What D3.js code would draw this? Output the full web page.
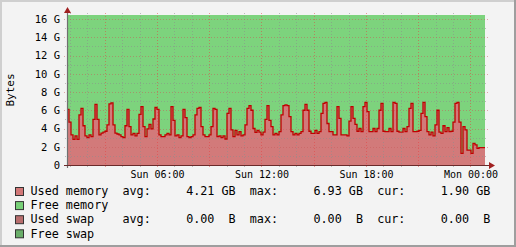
<!DOCTYPE html>
<html lang="en">
<head>
<meta charset="UTF-8"/>
<title>Memory usage</title>
<script src="https://d3js.org/d3.v7.min.js"></script>
<style>
  body { margin: 0; background: #f3f3f3; }
  svg { display: block; }
  text { font-family: "DejaVu Sans Mono", monospace; fill: #000; }
</style>
</head>
<body>
<script>
// time window shown: Sun 00:50 to Mon 00:50
var startTime = new Date(2012, 0, 1, 0, 50);
var endTime = new Date(2012, 0, 2, 0, 50);

// used memory in GB, evenly spaced samples over the window
var usedMemory = [6.1,4.7,3.3,2.8,3.2,2.8,5.5,6.2,4.3,3.2,
  3.0,3.3,3.1,5.0,6.65,5.0,3.3,3.5,3.6,3.7,
  4.4,6.7,6.8,4.4,3.5,3.4,3.3,3.1,3.0,4.3,
  6.1,4.2,3.3,3.47,3.2,3.47,5.55,6.4,4.2,3.1,
  3.95,4.45,3.95,5.04,6.3,6.1,3.3,3.1,3.1,3.3,
  3.47,3.3,6.4,4.9,3.2,3.3,3.0,3.2,6.1,5.2,
  3.1,3.0,3.1,3.3,5.5,6.2,6.3,4.2,3.3,3.1,
  3.1,3.3,4.2,6.2,6.1,3.1,3.2,3.0,3.2,2.85,
  5.66,6.2,3.84,3.1,3.8,3.3,3.65,3.2,3.3,4.4,
  6.2,6.5,6.0,4.0,3.58,3.8,3.6,3.3,3.6,5.0,
  6.5,4.9,4.2,3.3,3.47,3.3,3.65,5.5,6.5,6.6,
  6.5,5.3,3.65,3.3,3.47,3.3,3.47,3.65,6.0,6.65,
  6.0,3.7,3.47,3.47,3.8,3.47,3.65,5.66,6.76,6.87,
  4.55,3.65,3.65,3.3,3.3,6.4,5.1,3.3,3.3,3.3,
  3.2,4.8,6.4,5.1,4.45,3.7,4.0,3.65,6.4,6.87,
  5.85,3.65,3.65,4.0,3.65,4.0,6.0,6.76,3.7,3.65,
  3.65,4.0,3.65,6.87,6.76,3.7,3.6,3.6,4.0,3.65,
  4.2,6.2,6.76,3.65,3.65,3.7,3.8,5.66,6.87,5.3,
  3.65,3.3,3.6,3.2,4.4,6.0,3.6,3.47,4.3,3.65,
  4.1,3.65,3.7,4.7,6.76,6.87,4.7,1.28,4.2,3.84,
  1.64,1.64,1.28,2.37,2.2,1.83,1.9,1.9,1.9];

var memTotal = 16.44; // used + free

var yTicks = [0, 2, 4, 6, 8, 10, 12, 14, 16];
var yMinor = [1, 3, 5, 7, 9, 11, 13, 15];

var legendNames = ["Used memory", "Free memory", "Used swap", "Free swap"];
var legendColors = ["#d27878", "#77d077", "#b86e6e", "#6aae6a"];
var legendStats = [
  ["avg:", "4.21 GB", "max:", "6.93 GB", "cur:", "1.90 GB"],
  null,
  ["avg:", "0.00  B", "max:", "0.00  B", "cur:", "0.00  B"],
  null
];

var w = 516, h = 247;
var pLeft = 67, pRight = 485, pTop = 19, pBottom = 165;

var svg = d3.select("body").append("svg")
  .attr("width", w)
  .attr("height", h);

// frame
svg.append("rect").attr("width", w).attr("height", h).attr("fill", "#f3f3f3");
svg.append("rect").attr("x", 0).attr("y", 0).attr("width", w).attr("height", 2).attr("fill", "#cfcfcf");
svg.append("rect").attr("x", 0).attr("y", 0).attr("width", 2).attr("height", h).attr("fill", "#cfcfcf");
svg.append("rect").attr("x", 0).attr("y", h - 2).attr("width", w).attr("height", 2).attr("fill", "#9e9e9e");
svg.append("rect").attr("x", w - 2).attr("y", 0).attr("width", 2).attr("height", h).attr("fill", "#9e9e9e");

var xScale = d3.scaleTime()
  .domain([startTime, endTime])
  .range([pLeft, pRight]);

var yScale = d3.scaleLinear()
  .domain([0, 16])
  .range([pBottom, pTop]);

var step = (endTime - startTime) / usedMemory.length;
var points = usedMemory.map(function (v, i) {
  return { t: new Date(+startTime + i * step), v: v };
});
points.push({ t: endTime, v: usedMemory[usedMemory.length - 1] });

// free memory stacked on top of used
var freeArea = d3.area()
  .curve(d3.curveStepAfter)
  .x(function (d) { return xScale(d.t); })
  .y0(function (d) { return yScale(d.v); })
  .y1(yScale(memTotal));

var usedArea = d3.area()
  .curve(d3.curveStepAfter)
  .x(function (d) { return xScale(d.t); })
  .y0(yScale(0))
  .y1(function (d) { return yScale(d.v); });

svg.append("path").datum(points).attr("d", freeArea).attr("fill", "#7dd37d");
svg.append("path").datum(points).attr("d", usedArea).attr("fill", "#d27a7a");

// grid
var hours = d3.timeHour.range(startTime, endTime);
var grid = svg.append("g");

grid.selectAll(".vminor")
  .data(hours.filter(function (d) { return d.getHours() % 3 != 0; }))
  .enter().append("line")
  .attr("x1", function (d) { return Math.round(xScale(d)) + 0.5; })
  .attr("x2", function (d) { return Math.round(xScale(d)) + 0.5; })
  .attr("y1", pTop - 6).attr("y2", pBottom + 3)
  .attr("stroke", "rgba(140,140,140,0.55)")
  .attr("stroke-dasharray", "1,2");

grid.selectAll(".vmajor")
  .data(hours.filter(function (d) { return d.getHours() % 3 == 0; }))
  .enter().append("line")
  .attr("x1", function (d) { return Math.round(xScale(d)) + 0.5; })
  .attr("x2", function (d) { return Math.round(xScale(d)) + 0.5; })
  .attr("y1", pTop - 6).attr("y2", pBottom + 3)
  .attr("stroke", "rgba(230,60,60,0.5)")
  .attr("stroke-dasharray", "1,2");

grid.selectAll(".hminor")
  .data(yMinor)
  .enter().append("line")
  .attr("x1", pLeft - 2).attr("x2", pRight + 2)
  .attr("y1", function (d) { return Math.round(yScale(d)) + 0.5; })
  .attr("y2", function (d) { return Math.round(yScale(d)) + 0.5; })
  .attr("stroke", "rgba(140,140,140,0.55)")
  .attr("stroke-dasharray", "1,2");

grid.selectAll(".hmajor")
  .data(yTicks.slice(1))
  .enter().append("line")
  .attr("x1", pLeft - 3).attr("x2", pRight + 3)
  .attr("y1", function (d) { return Math.round(yScale(d)) + 0.5; })
  .attr("y2", function (d) { return Math.round(yScale(d)) + 0.5; })
  .attr("stroke", "rgba(200,90,90,0.5)")
  .attr("stroke-dasharray", "1,2");

// used memory line
var usedLine = d3.line()
  .curve(d3.curveStepAfter)
  .x(function (d) { return xScale(d.t); })
  .y(function (d) { return yScale(d.v); });

svg.append("path").datum(points)
  .attr("d", usedLine)
  .attr("fill", "none")
  .attr("stroke", "#c00000")
  .attr("stroke-width", 1.3);

// axes
svg.append("line")
  .attr("x1", pLeft + 0.5).attr("x2", pLeft + 0.5)
  .attr("y1", pTop - 8).attr("y2", pBottom + 3)
  .attr("stroke", "#707070").attr("stroke-width", 1.2);
svg.append("line")
  .attr("x1", pLeft - 3).attr("x2", pRight + 5)
  .attr("y1", pBottom + 0.5).attr("y2", pBottom + 0.5)
  .attr("stroke", "#6a2a2a").attr("stroke-width", 1.2);
svg.append("path")
  .attr("d", "M" + (pLeft - 3) + "," + (pTop - 6) + "L" + (pLeft + 0.5) + "," + (pTop - 12) + "L" + (pLeft + 4) + "," + (pTop - 6) + "Z")
  .attr("fill", "#a02020");
svg.append("path")
  .attr("d", "M" + (pRight + 4) + "," + (pBottom - 3) + "L" + (pRight + 10) + "," + (pBottom + 0.5) + "L" + (pRight + 4) + "," + (pBottom + 4) + "Z")
  .attr("fill", "#a02020");

// y labels
svg.selectAll(".ylab")
  .data(yTicks)
  .enter().append("text")
  .attr("x", 60)
  .attr("y", function (d) { return yScale(d) + 3.8; })
  .attr("text-anchor", "end")
  .style("font-size", "10.5px")
  .text(function (d) { return d == 0 ? "0" : d + " G"; });

// x labels every 6 hours
svg.selectAll(".xlab")
  .data(hours.filter(function (d) { return d.getHours() % 6 == 0; }))
  .enter().append("text")
  .attr("x", function (d) { return xScale(d) + 0.5; })
  .attr("y", 177.5)
  .attr("text-anchor", "middle")
  .style("font-size", "10px")
  .text(d3.timeFormat("%a %H:%M"));

svg.append("text")
  .attr("transform", "translate(14,90) rotate(-90)")
  .attr("text-anchor", "middle")
  .style("font-size", "11px")
  .text("Bytes");

// legend
var legend = svg.selectAll(".leg")
  .data(legendNames)
  .enter().append("g")
  .attr("transform", function (d, i) { return "translate(0," + (187 + i * 14.1) + ")"; });

legend.append("rect")
  .attr("x", 15.5).attr("y", 0.5)
  .attr("width", 8).attr("height", 8)
  .attr("fill", function (d, i) { return legendColors[i]; })
  .attr("stroke", "#333")
  .attr("stroke-width", 1);

legend.append("text")
  .attr("x", 30.5)
  .attr("y", 8.2)
  .attr("xml:space", "preserve")
  .style("white-space", "pre")
  .style("font-size", "11.75px")
  .text(function (d, i) {
    var s = legendStats[i];
    var name = (d + "             ").slice(0, 13);
    if (!s) return d;
    return name + s[0] + "     " + s[1] + "  " + s[2] + "     " + s[3] + "  " + s[4] + "     " + s[5];
  });
</script>
</body>
</html>
